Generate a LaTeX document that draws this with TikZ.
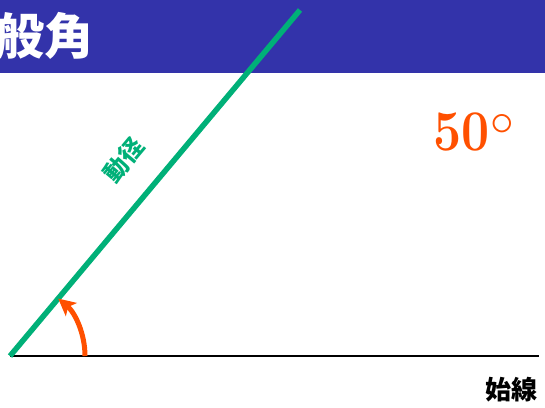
\documentclass[tikz,border=0pt]{standalone}
\usepackage{fontspec}
\newfontfamily\cjk{Noto Sans CJK JP}
\usetikzlibrary{arrows.meta}
\definecolor{bannerblue}{RGB}{51,51,170}
\definecolor{radiusgreen}{RGB}{0,176,120}
\definecolor{angleorange}{RGB}{255,80,0}
\tikzset{
  titletext/.style={text=white, font=\cjk\bfseries\fontsize{49}{50}\selectfont, inner sep=0},
  radiuslabel/.style={text=radiusgreen, font=\cjk\bfseries\fontsize{24}{24}\selectfont, inner sep=0},
  anglelabel/.style={text=angleorange, font=\bfseries\fontsize{50}{50}\selectfont, inner sep=0},
  linelabel/.style={text=black, font=\cjk\bfseries\fontsize{26}{26}\selectfont, inner sep=0},
}
\begin{document}
\begin{tikzpicture}[x=1pt,y=-1pt]
\useasboundingbox (0,0) rectangle (545,407);
\fill[bannerblue] (0,0) rectangle (545,73);
\node[titletext, anchor=west] (title) at (-5,36) {般角};
\coordinate (O) at (10,356);
\coordinate (A) at (300,10);
\coordinate (B) at (539,356);
\draw[black, line width=2.5] (O) -- (B);
\draw[radiusgreen, line width=5.5] (O) -- (A);
\draw[angleorange, line width=5, -{Stealth[length=17pt, width=17pt, inset=4pt]}]
  ([shift={(75,0)}]O) arc[start angle=0, end angle=-50, radius=75];
\node[radiuslabel, rotate=50] (lbl) at (124,160) {動径};
\node[anglelabel, anchor=base west] (deg) at (433,150) {\scalebox{1}[1.15]{50}\kern1pt\raisebox{15pt}{\scalebox{1.9}{$\circ$}}};
\node[linelabel] (init) at (511,390) {始線};
\end{tikzpicture}
\end{document}
